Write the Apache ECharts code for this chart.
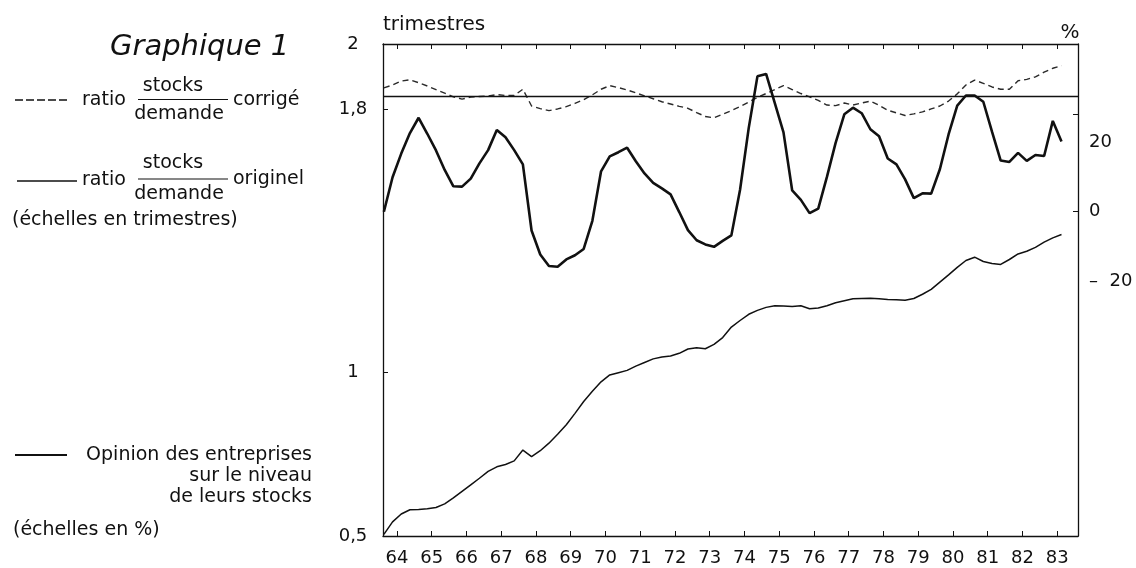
<!DOCTYPE html>
<html>
<head>
<meta charset="utf-8">
<script src="https://cdn.jsdelivr.net/npm/echarts@6/dist/echarts.min.js"></script>
<style>
html,body{margin:0;padding:0;background:#fff;}
#chart{width:1136px;height:568px;}
</style>
</head>
<body>
<div id="chart"></div>
<script>
// Quarterly categories: 1963 T3 .. 1983 T1
const quarters = [];
for (let y = 63; y <= 83; y++) {
  for (let q = 1; q <= 4; q++) {
    if ((y === 63 && q < 3) || (y === 83 && q > 1)) continue;
    quarters.push({ year: y, q: q });
  }
}
const yearTicks = [64,65,66,67,68,69,70,71,72,73,74,75,76,77,78,79,80,81,82,83];
const leftLabels = [0.5, 1, 1.8, 2];
const leftTicks = [1, 1.8];
const rightLabels = [-20, 0, 20];
const rightTicks = [0, 28];

// ratio stocks/demande corrigé (trimestres)
const corrige = [
 1.866, 1.875, 1.887, 1.891, 1.882, 1.872, 1.861, 1.850, 1.839, 1.832,
 1.838, 1.840, 1.841, 1.846, 1.843, 1.843, 1.862, 1.811, 1.803, 1.797,
 1.802, 1.809, 1.819, 1.830, 1.845, 1.862, 1.873, 1.867, 1.860, 1.851,
 1.842, 1.833, 1.824, 1.817, 1.810, 1.804, 1.791, 1.779, 1.775, 1.786,
 1.797, 1.809, 1.823, 1.837, 1.849, 1.861, 1.873, 1.861, 1.849, 1.839,
 1.828, 1.814, 1.812, 1.820, 1.814, 1.820, 1.826, 1.813, 1.798, 1.790,
 1.782, 1.787, 1.793, 1.802, 1.811, 1.826, 1.848, 1.875, 1.890, 1.880,
 1.869, 1.862, 1.862, 1.888, 1.892, 1.900, 1.914, 1.926, 1.934
];
const moyenne = 1.838;

// ratio stocks/demande originel (trimestres)
const originel = [
 0.505, 0.543, 0.567, 0.580, 0.581, 0.583, 0.587, 0.598, 0.616, 0.636,
 0.656, 0.676, 0.697, 0.711, 0.718, 0.729, 0.762, 0.742, 0.760, 0.783,
 0.810, 0.839, 0.874, 0.910, 0.941, 0.970, 0.991, 0.998, 1.005, 1.018,
 1.029, 1.040, 1.046, 1.049, 1.057, 1.070, 1.074, 1.071, 1.084, 1.105,
 1.137, 1.157, 1.176, 1.188, 1.197, 1.202, 1.201, 1.200, 1.202, 1.193,
 1.195, 1.202, 1.211, 1.217, 1.223, 1.224, 1.225, 1.223, 1.221, 1.220,
 1.219, 1.224, 1.237, 1.252, 1.274, 1.296, 1.319, 1.340, 1.350, 1.337,
 1.331, 1.328, 1.343, 1.360, 1.368, 1.380, 1.396, 1.409, 1.419
];

// Opinion des entreprises sur le niveau de leurs stocks (%)
const opinion = [
 0.0, 9.9, 16.7, 22.6, 27.0, 22.4, 17.6, 12.0, 7.3, 7.2,
 9.5, 13.9, 17.7, 23.5, 21.4, 17.7, 13.6, -5.4, -12.3, -15.6,
 -15.8, -13.7, -12.5, -10.7, -2.6, 11.6, 15.9, 17.1, 18.4, 14.5,
 11.0, 8.3, 6.7, 5.0, -0.1, -5.3, -8.2, -9.4, -10.1, -8.4,
 -6.8, 6.3, 24.1, 38.9, 39.6, 31.2, 22.8, 6.1, 3.4, -0.4,
 0.9, 10.0, 19.8, 28.0, 29.9, 28.3, 23.7, 21.7, 15.3, 13.6,
 9.3, 3.9, 5.3, 5.2, 12.2, 22.2, 30.5, 33.4, 33.4, 31.6,
 23.0, 14.7, 14.3, 16.9, 14.6, 16.3, 16.0, 26.1, 20.2
];

const INK = '#111111';
const FONT = '"DejaVu Sans", "Liberation Sans", sans-serif';
// quarter -> position on the year axis (middle of the quarter)
const qx = quarters.map(d => d.year + (d.q - 0.5) / 4);
const pairs = arr => arr.map((v, i) => [qx[i], v]);

const chart = echarts.init(document.getElementById('chart'));

function txt(text, x, y, size, align, extra) {
  return Object.assign({
    type: 'text', x: x, y: y, silent: true,
    style: { text: text, fill: INK, font: size + 'px ' + FONT, align: align || 'left', verticalAlign: 'middle' }
  }, extra || {});
}
function seg(x1, y1, x2, y2, w, dash) {
  return { type: 'line', silent: true, shape: { x1, y1, x2, y2 },
    style: { stroke: INK, lineWidth: w || 1.3, lineDash: dash || null } };
}

const axisLineStyle = { color: INK, width: 1.3 };

const option = {
  animation: false,
  backgroundColor: '#fff',
  grid: { left: 383, right: 58, top: 44, bottom: 32, containLabel: false },
  xAxis: [
    {
      type: 'value', min: 63.6, max: 83.6, position: 'bottom',
      axisLine: { show: true, onZero: false, lineStyle: axisLineStyle },
      axisTick: { show: true, inside: true, length: 5, customValues: yearTicks, lineStyle: { color: INK, width: 1 } },
      axisLabel: { customValues: yearTicks, formatter: v => String(v), color: INK, fontSize: 18, fontFamily: FONT, margin: 13 },
      splitLine: { show: false }
    },
    {
      type: 'value', min: 63.6, max: 83.6, position: 'top',
      axisLine: { show: true, onZero: false, lineStyle: axisLineStyle },
      axisTick: { show: true, inside: true, length: 5, customValues: yearTicks, lineStyle: { color: INK, width: 1 } },
      axisLabel: { show: false },
      splitLine: { show: false }
    }
  ],
  yAxis: [
    {
      type: 'value', min: 0.5, max: 2, position: 'left',
      axisLine: { show: true, onZero: false, lineStyle: axisLineStyle },
      axisTick: { show: true, inside: true, length: 5, customValues: leftTicks, lineStyle: { color: INK, width: 1 } },
      axisLabel: { customValues: leftLabels, formatter: v => String(v).replace('.', ','), color: INK, fontSize: 18, fontFamily: FONT, margin: 30, align: 'center' },
      splitLine: { show: false }
    },
    {
      type: 'value', min: -93.2, max: 48.2, position: 'right',
      axisLine: { show: true, onZero: false, lineStyle: axisLineStyle },
      axisTick: { show: true, inside: true, length: 5, customValues: rightTicks, lineStyle: { color: INK, width: 1 } },
      axisLabel: { customValues: rightLabels, formatter: v => v < 0 ? '\u2013  ' + Math.abs(v) : String(v), color: INK, fontSize: 18, fontFamily: FONT, margin: 11, align: 'left' },
      splitLine: { show: false }
    }
  ],
  series: [
    {
      name: 'ratio stocks/demande corrigé', type: 'line', xAxisIndex: 0, yAxisIndex: 0,
      data: pairs(corrige), showSymbol: false, smooth: false,
      lineStyle: { color: '#2a2a2a', width: 1.4, type: [6, 4] },
      markLine: {
        silent: true, symbol: ['none', 'none'], label: { show: false },
        lineStyle: { color: INK, width: 1.3, type: 'solid' },
        data: [{ yAxis: moyenne }]
      }
    },
    {
      name: 'ratio stocks/demande originel', type: 'line', xAxisIndex: 0, yAxisIndex: 0,
      data: pairs(originel), showSymbol: false,
      lineStyle: { color: INK, width: 1.5 }
    },
    {
      name: 'Opinion des entreprises sur le niveau de leurs stocks', type: 'line', xAxisIndex: 0, yAxisIndex: 1,
      data: pairs(opinion), showSymbol: false,
      lineStyle: { color: INK, width: 2.6 }
    }
  ],
  graphic: [
    txt('trimestres', 383, 25, 20, 'left'),
    txt('%', 1070, 33, 20, 'center'),
    { type: 'text', x: 110, y: 47, silent: true,
      style: { text: 'Graphique 1', fill: INK, font: 'italic 29px ' + FONT, align: 'left', verticalAlign: 'middle' } },
    // row 1 : corrigé
    seg(15, 100, 70, 100, 1.4, [8, 3]),
    txt('ratio', 82, 100, 19, 'left'),
    txt('stocks', 173, 86, 19, 'center'),
    seg(138, 99.5, 228, 99.5, 1.2),
    txt('demande', 179, 114, 19, 'center'),
    txt('corrigé', 233, 100, 19, 'left'),
    // row 2 : originel
    seg(17, 181, 77, 181, 1.4),
    txt('ratio', 82, 180, 19, 'left'),
    txt('stocks', 173, 163, 19, 'center'),
    seg(138, 179, 228, 179, 1.2),
    txt('demande', 179, 194, 19, 'center'),
    txt('originel', 233, 179, 19, 'left'),
    txt('(échelles en trimestres)', 12, 220, 19, 'left'),
    // opinion
    seg(15, 455, 67, 455, 1.8),
    txt('Opinion des entreprises', 312, 455, 19, 'right'),
    txt('sur le niveau', 312, 476, 19, 'right'),
    txt('de leurs stocks', 312, 497, 19, 'right'),
    txt('(échelles en %)', 13, 530, 19, 'left')
  ]
};
chart.setOption(option);
</script>
</body>
</html>
